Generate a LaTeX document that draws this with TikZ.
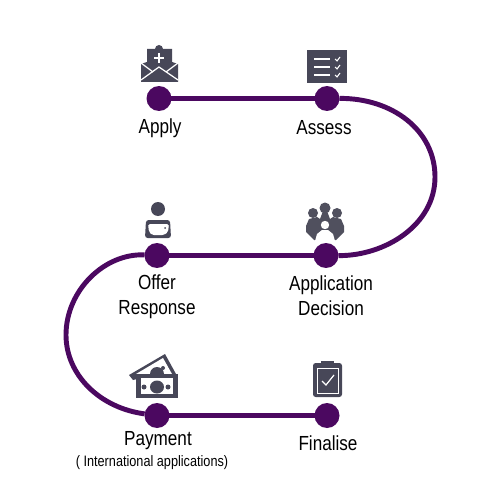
\documentclass[tikz,border=0pt]{standalone}
\usepackage{fontspec}
\setmainfont[FakeStretch=0.84]{Liberation Sans}
\usepackage{tikz}
\definecolor{plum}{RGB}{75, 8, 96}
\definecolor{slate}{RGB}{71, 71, 88}
\colorlet{crowd}{slate!85!gray}
\tikzset{
  stopdot/.style={circle, fill=plum, minimum size=0.5cm, inner sep=0pt, outer sep=0pt},
  trackline/.style={draw=plum, line width=3.3pt, shorten <=-2pt, shorten >=-2pt},
  bendline/.style={draw=plum, line width=2.8pt},
  caption/.style={font=\fontsize{11.6}{14}\selectfont, align=center, text=black},
  subnote/.style={font=\fontsize{8.6}{10}\selectfont, text=black},
  tickline/.style={draw=white, line width=0.7pt}
}
\begin{document}
\begin{tikzpicture}[x=0.02cm, y=-0.02cm]
  \useasboundingbox (0, 0) rectangle (500, 500);

  % curves
  \coordinate (rightside) at (435, 177);
  \coordinate (leftside) at (66, 335);
  \node[stopdot] (apply) at (159, 98.5) {};
  \node[stopdot] (assess) at (327, 98.5) {};
  \node[stopdot] (decision) at (326, 255.5) {};
  \node[stopdot] (offer) at (157, 255.5) {};
  \node[stopdot] (payment) at (157, 415.5) {};
  \node[stopdot] (finalise) at (327, 415.5) {};

  \draw[trackline] (apply) -- (assess);
  \draw[trackline] (offer) -- (decision);
  \draw[trackline] (payment) -- (finalise);
  \draw[bendline] (assess) .. controls (392, 98) and (435, 130) .. (rightside)
    .. controls (435, 225) and (385, 256) .. (decision);
  \draw[bendline] (offer) .. controls (105, 253) and (66, 290) .. (leftside)
    .. controls (66, 375) and (100, 408) .. (payment);

  % labels
  \node[caption] (applytext) at (160, 128.5) {Apply};
  \node[caption] (assesstext) at (324, 128) {Assess};
  \node[caption] (decisiontext) at (331, 296) {Application\\Decision};
  \node[caption] (offertext) at (157, 296.5) {Offer\\Response};
  \node[caption] (paymenttext) at (158, 440.5) {Payment};
  \node[subnote] (paymentnote) at (152, 463) {( International applications)};
  \node[caption] (finalisetext) at (328, 443.5) {Finalise};

  % envelope
  \fill[slate] (147, 49) -- (155, 49) arc (180:360:4) -- (172, 49) -- (172, 62)
    -- (178, 64) -- (178, 82) -- (141, 82) -- (141, 64) -- (147, 62) -- cycle;
  \draw[tickline] (141, 63) -- (153, 72);
  \draw[tickline] (178, 63) -- (166, 72);
  \draw[tickline] (141, 80) -- (159, 67) -- (178, 80);
  \draw[tickline] (159, 53) -- (159, 63) (154, 58) -- (164, 58);

  % list
  \fill[slate] (307, 50) rectangle (347, 83);
  \foreach \y in {59, 67, 75} {
    \draw[tickline] (314, \y) -- (330, \y);
    \draw[tickline, line width=0.6pt] (335, \y) -- (337, \y + 2) -- (340, \y - 2);
  };

  % person at desk
  \fill[slate] (158, 209) circle (7);
  \fill[slate, rounded corners=1.5pt] (146, 220) -- (170, 220) -- (171, 238)
    -- (145, 238) -- cycle;
  \fill[white, rounded corners=1pt] (148, 224) -- (169, 224) -- (168, 232) -- (164, 235)
    -- (152, 235) -- (149, 232) -- cycle;
  \fill[slate] (165, 228) circle (1);

  % group
  \fill[crowd] (313, 213) circle (5) (325, 208) circle (5.5) (337, 213) circle (5);
  \fill[crowd] (306, 226) -- (309, 219) -- (317, 217) -- (320, 219) -- (323, 211) -- (327, 211)
    -- (330, 219) -- (333, 217) -- (341, 219) -- (344, 226) -- (344, 232) -- (336, 240)
    -- (314, 240) -- (306, 232) -- cycle;
  \fill[white] (325, 225) circle (4.2);
  \fill[white] (315, 241) -- (317, 234) -- (322, 230) -- (328, 230) -- (333, 234) -- (335, 241) -- cycle;

  % banknotes
  \fill[slate] (129, 375) -- (165, 354) -- (176, 374) -- (137, 374) -- (137, 379) -- (133, 380) -- cycle;
  \fill[white] (136, 374) -- (163, 358) -- (172, 374) -- cycle;
  \fill[slate] (150, 374) arc (180:360:7) -- cycle;
  \fill[slate] (163, 368) circle (2);
  \fill[slate] (136, 374) rectangle (178, 398);
  \fill[white] (141, 378) rectangle (173, 394);
  \fill[slate] (157, 387) ellipse (7 and 6.5);
  \fill[slate] (144, 387) circle (2.5) (168, 387) circle (2.5);

  % clipboard
  \fill[slate, rounded corners=1.5pt] (313, 363) rectangle (342, 397);
  \draw[white, line width=0.45pt] (317, 368) rectangle (338, 393);
  \fill[slate] (321, 361) rectangle (334, 367.6);
  \draw[tickline] (322, 381) -- (326, 385) -- (334, 375);
\end{tikzpicture}
\end{document}
